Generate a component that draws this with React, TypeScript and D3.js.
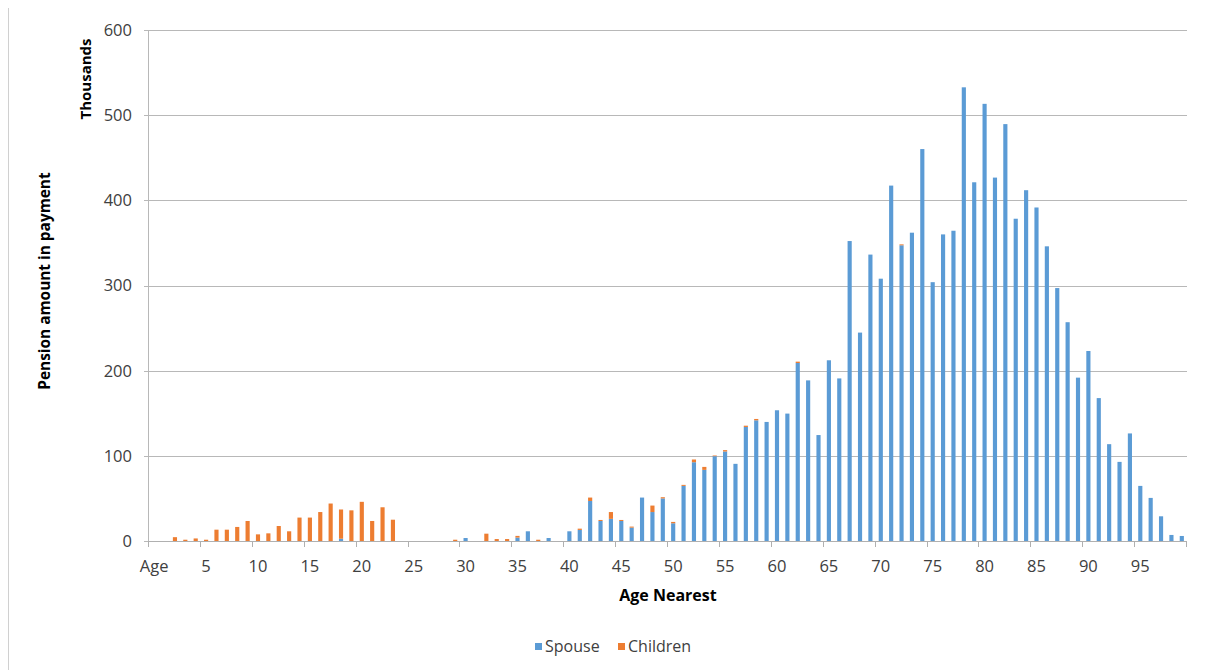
import React from "react";
import * as d3 from "d3";

// Age categories: "Age" followed by 1..99
const categories: string[] = ["Age", ...d3.range(1, 100).map(String)];

// Pension amount in payment (thousands), by age nearest
const spouse: number[] = [
  0, 0, 0, 0, 0, 0, 0, 0, 0, 0,
  0, 0, 0, 0, 0, 0, 0, 0, 2.7, 0,
  0, 0, 0, 0, 0, 0, 0, 0, 0, 0,
  3.5, 0, 0, 0, 0, 4, 11.4, 0, 3.5, 0,
  11.4, 13, 47, 23.5, 26, 23.5, 15.7, 51, 34, 50,
  20.8, 64.7, 92.5, 83.5, 99.6, 105.1, 90.6, 133.9, 141.7, 139.8,
  153.5, 149.6, 209, 188.6, 124.4, 212.2, 190.9, 352.2, 244.7, 336.3,
  308, 417.3, 347.2, 362, 460.2, 303.9, 360, 364.3, 532.7, 421.2,
  513.3, 426.7, 489.5, 378.4, 411.9, 391.6, 346, 297, 256.9, 191.8,
  223.1, 167.8, 113.7, 92.9, 126.3, 64.7, 50.6, 29, 7.1, 5.9,
];

const children: number[] = [
  0, 0, 4.5, 1.5, 3, 1.5, 13.3, 13.3, 16.5, 23.5,
  7.8, 9, 17.6, 11.4, 27.5, 27.5, 34, 44, 34.3, 36,
  46, 23.5, 39.6, 25, 0, 0, 0, 0, 0, 1.5,
  0, 0, 8.6, 2.3, 2.3, 2, 0, 1.5, 0, 0,
  0, 1.5, 4, 1.2, 8, 1.2, 1.2, 0, 7.6, 1.4,
  1.6, 1.2, 3.2, 3.5, 0.8, 1.6, 0, 1.5, 1.6, 0,
  0, 0, 1.6, 0, 0, 0, 0, 0, 0, 0,
  0, 0, 1.1, 0, 0, 0, 0, 0, 0, 0,
  0, 0, 0, 0, 0, 0, 0, 0, 0, 0,
  0, 0, 0, 0, 0, 0, 0, 0, 0, 0,
];

const seriesNames = ["Spouse", "Children"];
const seriesColors = ["#5B9BD5", "#ED7D31"];
const yTicks = [0, 100, 200, 300, 400, 500, 600];

const W = 1206;
const H = 670;
const plot = { left: 149, right: 1187, top: 30, bottom: 541 };
const FONT = "'Open Sans', 'DejaVu Sans', sans-serif";

export default function App() {
  const x = d3
    .scaleBand<string>()
    .domain(categories)
    .range([plot.left, plot.right])
    .padding(0);
  const y = d3.scaleLinear().domain([0, 600]).range([plot.bottom, plot.top]);
  const bw = x.bandwidth();
  const barW = bw * 0.4;

  const rows = categories.map((c, i) => ({ cat: c, Spouse: spouse[i], Children: children[i] }));
  const stacked = d3.stack<any>().keys(seriesNames)(rows);

  // tick marks every 5 categories plus the closing edge
  const tickIdx = d3.range(0, categories.length, 5);
  const labelCats = categories.filter((_, i) => i % 5 === 0);

  const xMid = (plot.left + plot.right) / 2;

  return (
    <svg
      width={W}
      height={H}
      style={{ position: "absolute", left: 0, top: 0, background: "#fff" }}
      fontFamily={FONT}
    >
      {/* chart frame edge */}
      <line x1={8.5} x2={8.5} y1={8} y2={H} stroke="#d0d0d0" strokeWidth={1} />

      {/* horizontal gridlines with y tick marks */}
      {yTicks.map((t) => (
        <g key={t}>
          <line
            x1={plot.left - 5}
            x2={plot.right}
            y1={Math.round(y(t)) + 0.5}
            y2={Math.round(y(t)) + 0.5}
            stroke="#b8b8b8"
            strokeWidth={1}
          />
          <text
            x={132}
            y={y(t)}
            dy="0.36em"
            textAnchor="end"
            fontSize={16.5}
            fill="#404040"
          >
            {t}
          </text>
        </g>
      ))}

      {/* y axis line */}
      <line
        x1={plot.left - 0.5}
        x2={plot.left - 0.5}
        y1={plot.top}
        y2={plot.bottom}
        stroke="#b8b8b8"
        strokeWidth={1}
      />

      {/* stacked bars */}
      {stacked.map((layer, si) => (
        <g key={seriesNames[si]} fill={seriesColors[si]}>
          {layer.map((d, i) => {
            const h = y(d[0]) - y(d[1]);
            if (h <= 0) return null;
            return (
              <rect
                key={i}
                x={(x(categories[i]) as number) + (bw - barW) / 2}
                y={y(d[1])}
                width={barW}
                height={h}
              />
            );
          })}
        </g>
      ))}

      {/* x axis line and ticks */}
      <line
        x1={plot.left}
        x2={plot.right}
        y1={plot.bottom + 0.5}
        y2={plot.bottom + 0.5}
        stroke="#b0b0b0"
        strokeWidth={1.2}
      />
      {[...tickIdx.map((i) => x(categories[i]) as number), plot.right].map((tx, k) => (
        <line
          key={k}
          x1={Math.round(tx) - 0.5}
          x2={Math.round(tx) - 0.5}
          y1={plot.bottom}
          y2={plot.bottom + 6}
          stroke="#b0b0b0"
          strokeWidth={1}
        />
      ))}
      {labelCats.map((c) => (
        <text
          key={c}
          x={(x(c) as number) + bw / 2}
          y={572}
          textAnchor="middle"
          fontSize={16.5}
          fill="#404040"
        >
          {c}
        </text>
      ))}

      {/* axis titles */}
      <text
        x={xMid}
        y={601}
        textAnchor="middle"
        fontSize={16}
        fontWeight="bold"
        fill="#000"
      >
        Age Nearest
      </text>
      <text
        transform="translate(50,281) rotate(-90)"
        textAnchor="middle"
        fontSize={15.4}
        fontWeight="bold"
        fill="#000"
      >
        Pension amount in payment
      </text>
      <text
        transform="translate(91,79) rotate(-90)"
        textAnchor="middle"
        fontSize={15}
        fontWeight="bold"
        fill="#000"
      >
        Thousands
      </text>

      {/* legend */}
      {seriesNames.map((name, i) => {
        const lx = [535, 618][i];
        return (
          <g key={name}>
            <rect x={lx} y={643} width={7} height={7} fill={seriesColors[i]} />
            <text x={lx + 10} y={652} fontSize={16} fill="#404040">
              {name}
            </text>
          </g>
        );
      })}
    </svg>
  );
}
